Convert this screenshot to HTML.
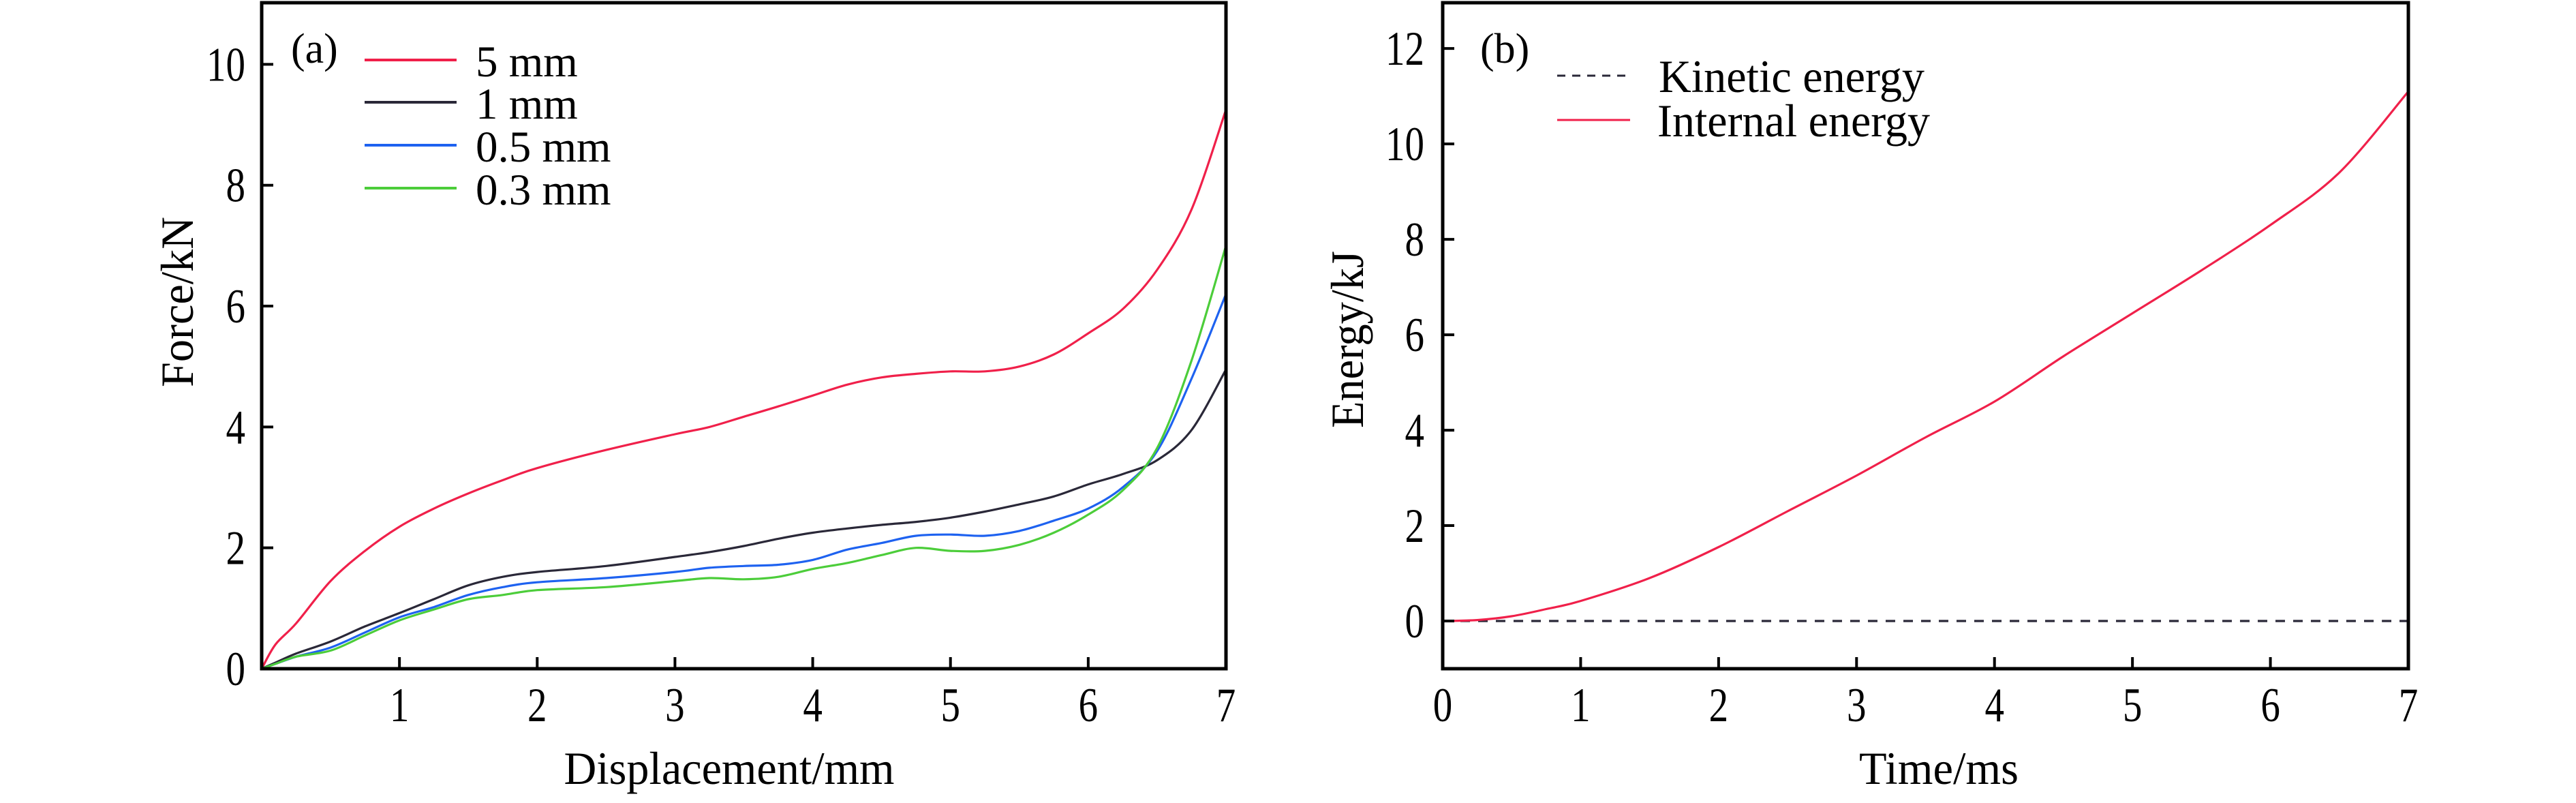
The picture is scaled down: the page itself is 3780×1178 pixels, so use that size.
<!DOCTYPE html>
<html><head><meta charset="utf-8"><style>
html,body{margin:0;padding:0;background:#fff;}
svg text{font-family:"Liberation Serif",serif;fill:#000;}
</style></head><body>
<svg id="fig" width="3780" height="1173" viewBox="0 0 3780 1173" xmlns="http://www.w3.org/2000/svg">
<g id="pa"></g>
<g id="pb"></g>
</svg>
<script>
const dispX = [0,0.1,0.25,0.5,0.75,1,1.25,1.5,1.75,2,2.5,3,3.25,3.5,3.75,4,4.25,4.5,4.75,5,5.25,5.5,5.75,6,6.25,6.5,6.75,7];
const force5 = [0,0.4,0.75,1.45,1.95,2.35,2.65,2.9,3.12,3.32,3.62,3.88,4.0,4.17,4.34,4.52,4.7,4.82,4.88,4.92,4.92,5.0,5.2,5.55,5.95,6.6,7.6,9.25];
const force1 = [0,0.1,0.25,0.45,0.7,0.92,1.15,1.38,1.52,1.6,1.7,1.85,1.93,2.03,2.15,2.25,2.32,2.38,2.43,2.5,2.6,2.72,2.85,3.05,3.22,3.45,3.95,4.95];
const force05 = [0,0.08,0.2,0.35,0.6,0.85,1.02,1.22,1.35,1.43,1.5,1.6,1.67,1.7,1.72,1.8,1.97,2.08,2.2,2.22,2.2,2.28,2.45,2.65,3.0,3.6,4.8,6.2];
const force03 = [0,0.08,0.2,0.3,0.55,0.8,0.98,1.15,1.22,1.3,1.35,1.45,1.5,1.48,1.52,1.65,1.75,1.88,2.0,1.95,1.95,2.05,2.25,2.55,2.95,3.65,5.1,7.0];
const timeX = [0,0.25,0.5,0.75,1,1.5,2,2.5,3,3.5,4,4.5,5,5.5,6,6.5,7];
const internalE = [0,0.02,0.1,0.25,0.42,0.9,1.55,2.3,3.05,3.85,4.6,5.55,6.45,7.35,8.3,9.4,11.1];
const kineticE = [0,0,0,0,0,0,0,0,0,0,0,0,0,0,0,0,0];
const xTicksA = ["1","2","3","4","5","6","7"];
const yTicksA = ["0","2","4","6","8","10"];
const xTicksB = ["0","1","2","3","4","5","6","7"];
const yTicksB = ["0","2","4","6","8","10","12"];

const NS="http://www.w3.org/2000/svg";
function mk(p,tag,attrs){const e=document.createElementNS(NS,tag);for(const k in attrs)e.setAttribute(k,attrs[k]);p.appendChild(e);return e;}
function smooth(pts){let d="M"+pts[0][0].toFixed(1)+","+pts[0][1].toFixed(1);
 for(let i=0;i<pts.length-1;i++){const p0=pts[Math.max(0,i-1)],p1=pts[i],p2=pts[i+1],p3=pts[Math.min(pts.length-1,i+2)];
 const c1=[p1[0]+(p2[0]-p0[0])/6,p1[1]+(p2[1]-p0[1])/6],c2=[p2[0]-(p3[0]-p1[0])/6,p2[1]-(p3[1]-p1[1])/6];
 d+=" C"+c1[0].toFixed(1)+","+c1[1].toFixed(1)+" "+c2[0].toFixed(1)+","+c2[1].toFixed(1)+" "+p2[0].toFixed(1)+","+p2[1].toFixed(1);}
 return d;}
function tickText(p,x,y,t,anchor,name){
 const tx=mk(p,'text',{x:x,y:y,'font-size':71,'text-anchor':anchor,textLength:28.5*t.length,lengthAdjust:'spacingAndGlyphs'});
 tx.textContent=t;
 
 }

// Panel A
const A={l:384,r:1799,t:4,b:981,x0:0,x1:7,y0:0,y1:11.02};
const ax=v=>A.l+(v-A.x0)/(A.x1-A.x0)*(A.r-A.l);
const ay=v=>A.b-(v-A.y0)/(A.y1-A.y0)*(A.b-A.t);
const pa=document.getElementById('pa');
function series(p,xs,ys,fx,fy,color,name,dash){const pts=xs.map((x,i)=>[fx(x),fy(ys[i])]);
 const e=mk(p,'path',{d:smooth(pts),fill:'none',stroke:color,'stroke-width':3.2,'stroke-dasharray':dash||'none'});
 
 }
series(pa,dispX,force5,ax,ay,'#f0204a','curve-5mm');
series(pa,dispX,force1,ax,ay,'#2a2838','curve-1mm');
series(pa,dispX,force05,ax,ay,'#1e62f0','curve-0.5mm');
series(pa,dispX,force03,ax,ay,'#4ccd3a','curve-0.3mm');
function frame(p,B,name){const e=mk(p,'rect',{x:B.l,y:B.t,width:B.r-B.l,height:B.b-B.t,fill:'none',stroke:'#000','stroke-width':5});
 
 }
frame(pa,A,'plot-frame-a');
xTicksA.forEach(t=>{const x=ax(+t);
 const l=mk(pa,'line',{x1:x,y1:A.b,x2:x,y2:A.b-17,stroke:'#000','stroke-width':4});
 
 
 tickText(pa,x,1058,t,'middle','x-tick-label-a');});
yTicksA.forEach(t=>{const y=ay(+t);
 const l=mk(pa,'line',{x1:A.l,y1:y,x2:A.l+17,y2:y,stroke:'#000','stroke-width':4});
 
 
 tickText(pa,360,y+24,t,'end','y-tick-label-a');});
// Panel B
const B={l:2117,r:3534,t:4,b:981,x0:0,x1:7,y0:-1,y1:12.96};
const bx=v=>B.l+(v-B.x0)/(B.x1-B.x0)*(B.r-B.l);
const by=v=>B.b-(v-B.y0)/(B.y1-B.y0)*(B.b-B.t);
const pb=document.getElementById('pb');
series(pb,timeX,kineticE,bx,by,'#2a2838','kinetic-energy-line','14 12');
series(pb,timeX,internalE,bx,by,'#f0204a','internal-energy-line');
frame(pb,B,'plot-frame-b');
xTicksB.forEach(t=>{const x=bx(+t);
 const l=mk(pb,'line',{x1:x,y1:B.b,x2:x,y2:B.b-17,stroke:'#000','stroke-width':4});
 
 
 tickText(pb,x,1058,t,'middle','x-tick-label-b');});
yTicksB.forEach(t=>{const y=by(+t);
 const l=mk(pb,'line',{x1:B.l,y1:y,x2:B.l+17,y2:y,stroke:'#000','stroke-width':4});
 
 
 tickText(pb,2090,y+24,t,'end','y-tick-label-b');});
</script>
<svg style="position:absolute;left:0;top:0" width="3780" height="1173">
<g font-family="Liberation Serif, serif">
<text x="427" y="92" font-size="62">(a)</text>
<text x="2172" y="92" font-size="62">(b)</text>
<text x="1070" y="1150" font-size="68" text-anchor="middle" textLength="485" lengthAdjust="spacingAndGlyphs">Displacement/mm</text>
<text transform="translate(283,443) rotate(-90)" font-size="68" text-anchor="middle" textLength="250" lengthAdjust="spacingAndGlyphs">Force/kN</text>
<text x="2845" y="1150" font-size="68" text-anchor="middle" textLength="234" lengthAdjust="spacingAndGlyphs">Time/ms</text>
<text transform="translate(2000,498) rotate(-90)" font-size="68" text-anchor="middle" textLength="260" lengthAdjust="spacingAndGlyphs">Energy/kJ</text>
<g font-size="65">
<line x1="535" y1="88" x2="670" y2="88" stroke="#f0204a" stroke-width="4"/><text x="698" y="112">5 mm</text>
<line x1="535" y1="150" x2="670" y2="150" stroke="#2a2838" stroke-width="4"/><text x="698" y="174">1 mm</text>
<line x1="535" y1="213" x2="670" y2="213" stroke="#1e62f0" stroke-width="4"/><text x="698" y="237">0.5 mm</text>
<line x1="535" y1="276" x2="670" y2="276" stroke="#4ccd3a" stroke-width="4"/><text x="698" y="300">0.3 mm</text>
</g>
<g font-size="68">
<line x1="2285" y1="111" x2="2386" y2="111" stroke="#2a2838" stroke-width="3" stroke-dasharray="12 10"/><text x="2434" y="135" textLength="390" lengthAdjust="spacingAndGlyphs">Kinetic energy</text>
<line x1="2285" y1="176" x2="2392" y2="176" stroke="#f0204a" stroke-width="3"/><text x="2432" y="200" textLength="400" lengthAdjust="spacingAndGlyphs">Internal energy</text>
</g>
</g>
</svg>
</body></html>
